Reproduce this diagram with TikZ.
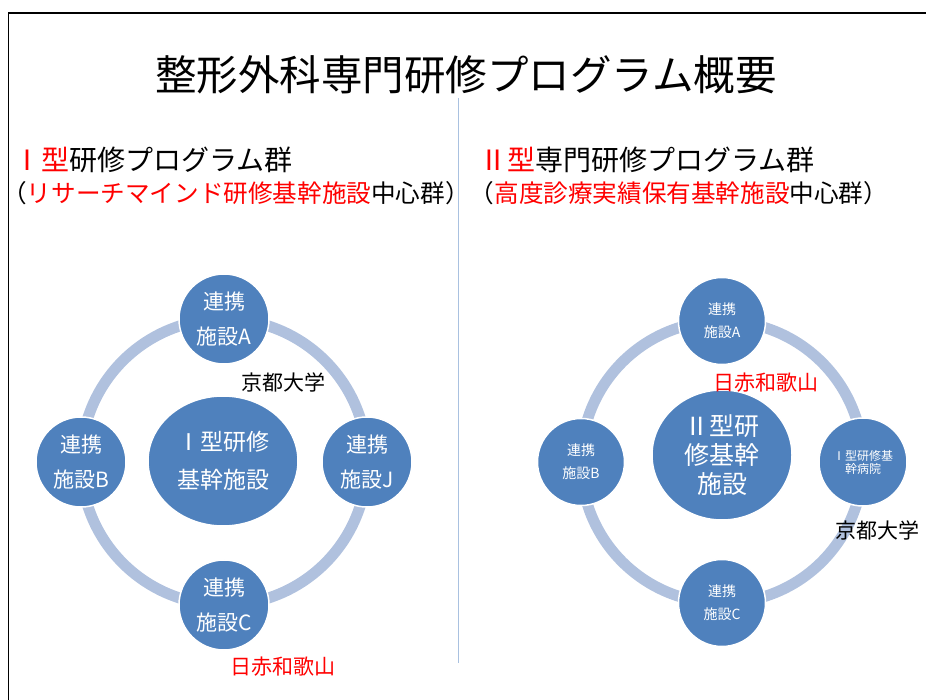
\documentclass[tikz,border=0pt]{standalone}
\usepackage{fontspec}
\setmainfont{Noto Sans CJK JP}
\usetikzlibrary{shapes.geometric,backgrounds}
\definecolor{nodeblue}{HTML}{4F81BD}
\definecolor{ringblue}{HTML}{B0C1DE}
\definecolor{lineblue}{HTML}{A9C1E0}
\definecolor{hired}{HTML}{FF0000}
\tikzset{
	facility/.style={circle,fill=nodeblue,draw=white,line width=1.5pt,text=white,align=center,inner sep=0pt,minimum size=90pt,font=\fontsize{21}{35}\selectfont},
	core/.style={ellipse,fill=nodeblue,draw=white,line width=1.5pt,text=white,align=center,inner sep=0pt},
	ring/.style={line width=11pt,ringblue},
	hosp/.style={inner sep=0pt,font=\fontsize{21}{21}\selectfont},
	head/.style={inner sep=0pt,font=\fontsize{28}{28}\selectfont},
	subhead/.style={inner sep=0pt,font=\fontsize{24.6}{25}\selectfont}
}
\begin{document}
\begin{tikzpicture}[x=1pt,y=1pt]
	\useasboundingbox (0,0) rectangle (926,699);
	%frame
	\draw[line width=1.8pt] (8.5,-5) |- (935,686);
	%title
	\node (title) at (466,624) [inner sep=0pt,font=\fontsize{41.5}{42}\selectfont]{整形外科専門研修プログラム概要};
	%divider
	\coordinate (divtop) at (458,601);
	\coordinate (divbot) at (458,36);
	\draw[lineblue,line width=1pt] (divtop) -- (divbot);
	%headers
	\node (headIa) at (153,539) [head]{\textcolor{hired}{Ⅰ型}研修プログラム群};
	\node (headIb) at (236,506) [subhead]{（\textcolor{hired}{リサーチマインド研修基幹施設}中心群）};
	\node (headIIa) at (647,539) [head]{\textcolor{hired}{Ⅱ型}専門研修プログラム群};
	\node (headIIb) at (679,506) [subhead]{（\textcolor{hired}{高度診療実績保有基幹施設}中心群）};

	%type I group
	\node (lA) at (224,380) [facility]{連携\\施設A};
	\node (lB) at (81,237) [facility]{連携\\施設B};
	\node (lJ) at (367,237) [facility]{連携\\施設J};
	\node (lC) at (224,94) [facility]{連携\\施設C};
	\node (lcore) at (223,238) [core,minimum width=150pt,minimum height=130pt,font=\fontsize{23}{38}\selectfont]{Ⅰ型研修\\基幹施設};
	\node (lkyoto) at (283,317) [hosp]{京都大学};
	\node (lwaka) at (283,32) [hosp,text=hired]{日赤和歌山};

	%type II group
	\node (rA) at (722,378) [facility,minimum size=87pt,font=\fontsize{14}{23}\selectfont]{連携\\施設A};
	\node (rB) at (581,237) [facility,minimum size=87pt,font=\fontsize{14}{23}\selectfont]{連携\\施設B};
	\node (rI) at (863,237) [facility,minimum size=88pt,font=\fontsize{12}{13}\selectfont]{Ⅰ型研修基\\幹病院};
	\node (rC) at (722,96) [facility,minimum size=87pt,font=\fontsize{14}{23}\selectfont]{連携\\施設C};
	\node (rcore) at (722,244) [core,minimum width=140pt,minimum height=130pt,font=\fontsize{25}{29}\selectfont]{Ⅱ型研\\修基幹\\施設};
	\node (rwaka) at (766,316) [hosp,text=hired]{日赤和歌山};
	\node (rkyoto) at (877,169) [hosp]{京都大学};

	%rings
	\begin{pgfonlayer}{background}
		\foreach \a/\b in {lA/lJ,lJ/lC,lC/lB,lB/lA,rA/rI,rI/rC,rC/rB,rB/rA}{
			\draw[ring] (\a.center) to[bend left=45] (\b.center);
		}
	\end{pgfonlayer}
\end{tikzpicture}
\end{document}
